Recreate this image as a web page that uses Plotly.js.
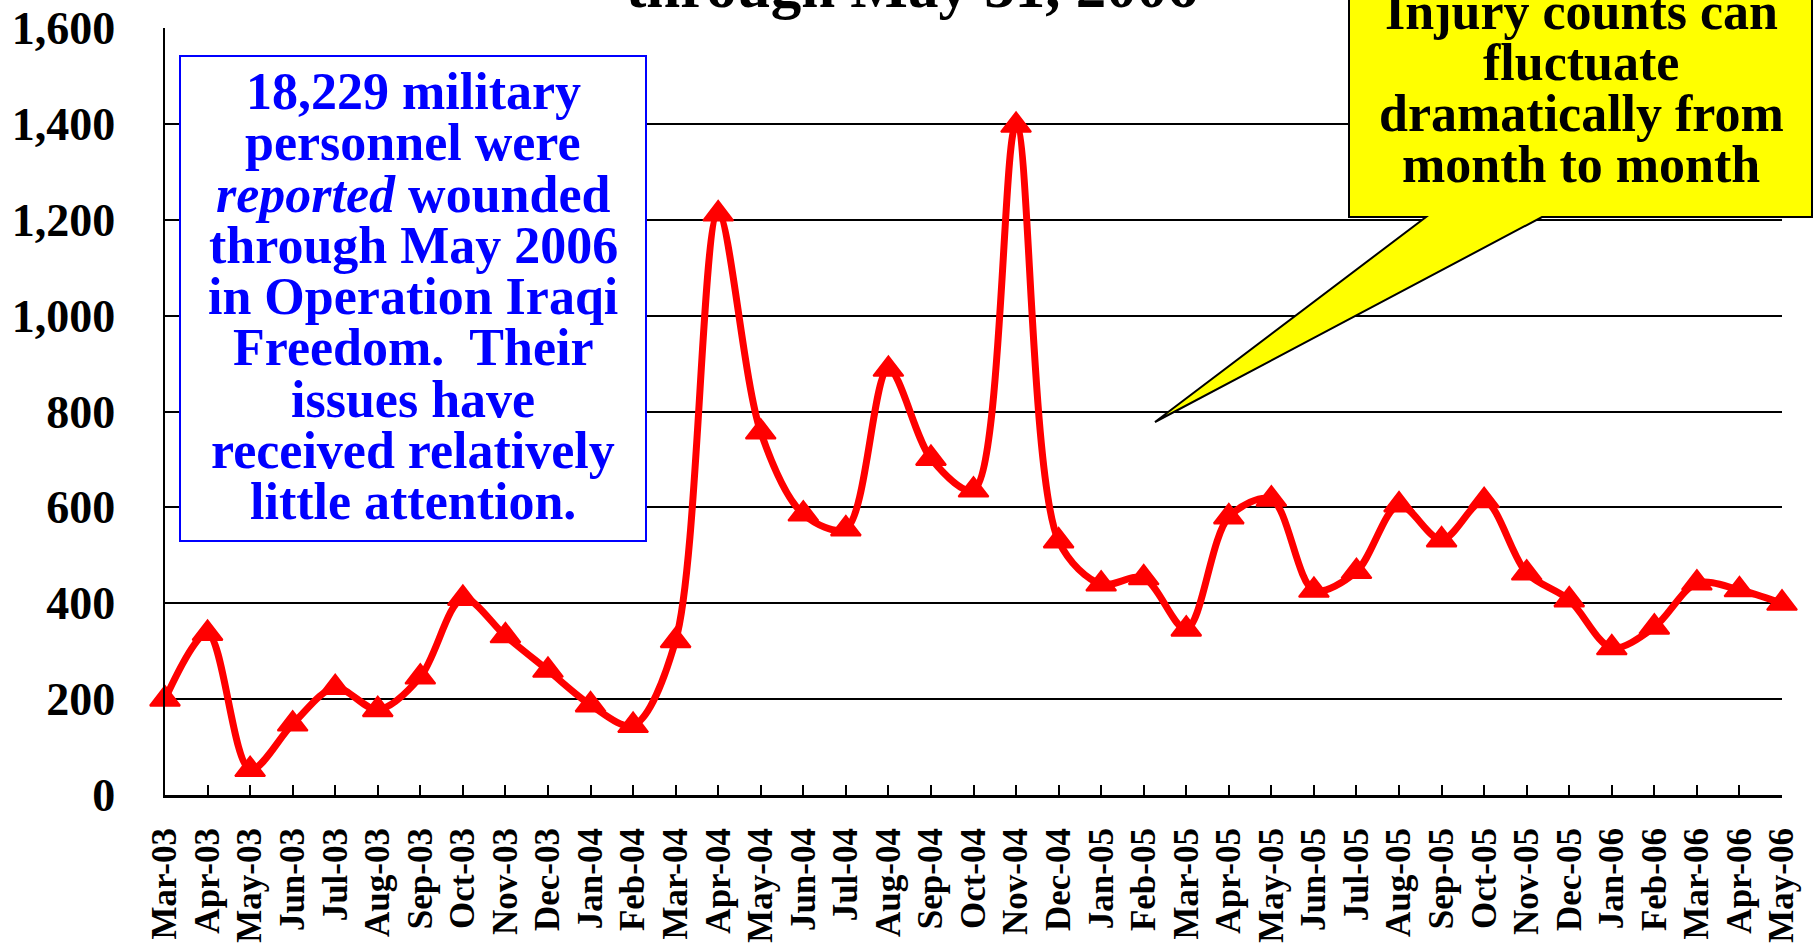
<!DOCTYPE html>
<html><head><meta charset="utf-8">
<script src="https://cdn.plot.ly/plotly-3.0.1.min.js"></script>
<style>html,body{margin:0;padding:0;background:#fff;}#chart{width:1814px;height:944px;}</style>
</head><body><div id="chart"></div>
<script>
const months = ['Mar-03','Apr-03','May-03','Jun-03','Jul-03','Aug-03','Sep-03','Oct-03','Nov-03','Dec-03',
  'Jan-04','Feb-04','Mar-04','Apr-04','May-04','Jun-04','Jul-04','Aug-04','Sep-04','Oct-04','Nov-04','Dec-04',
  'Jan-05','Feb-05','Mar-05','Apr-05','May-05','Jun-05','Jul-05','Aug-05','Sep-05','Oct-05','Nov-05','Dec-05',
  'Jan-06','Feb-06','Mar-06','Apr-06','May-06'];
const wounded = [200, 337, 53, 148, 224, 178, 246, 410, 332, 260,
  188, 145, 322, 1212, 757, 586, 555, 888, 702, 636, 1397, 530,
  440, 453, 346, 580, 617, 427, 466, 605, 532, 614, 463, 407,
  307, 350, 442, 428, 400];
const yTicks = [0, 200, 400, 600, 800, 1000, 1200, 1400, 1600];
const titleText = 'through May 31, 2006';
const boxLines = ['18,229 military', 'personnel were', '<i>reported</i> wounded', 'through May 2006',
  'in Operation Iraqi', 'Freedom.\u00a0 Their', 'issues have', 'received relatively', 'little attention.'];
const calloutLines = ['Injury counts can', 'fluctuate', 'dramatically from', 'month to month'];

const W = 1814, H = 944, L = 165, R = 32, T = 28, B = 149;
const pw = W - L - R, ph = H - T - B;
const px = x => (x - L) / pw;
const py = y => (H - B - y) / ph;
const FONT = 'Liberation Serif, Times New Roman, serif';

const annotations = [];
annotations.push({text: titleText, xref: 'paper', yref: 'paper', x: px(912), y: py(-13),
  xanchor: 'center', yanchor: 'middle', showarrow: false,
  font: {family: FONT, size: 61, color: '#000', weight: 'bold'}});
boxLines.forEach((t, i) => annotations.push({text: t, xref: 'paper', yref: 'paper',
  x: px(413), y: py(109 + 51.25 * i - 17.5), xanchor: 'center', yanchor: 'middle', showarrow: false,
  font: {family: FONT, size: 52, color: '#0000FF', weight: 'bold'}}));
calloutLines.forEach((t, i) => annotations.push({text: t, xref: 'paper', yref: 'paper',
  x: px(1581), y: py(29 + 51 * i - 17.5), xanchor: 'center', yanchor: 'middle', showarrow: false,
  font: {family: FONT, size: 52, color: '#000', weight: 'bold'}}));

const calloutPath = 'M ' + px(1349) + ',' + py(-5) + ' L ' + px(1812) + ',' + py(-5) +
  ' L ' + px(1812) + ',' + py(217) + ' L ' + px(1542) + ',' + py(217) +
  ' L ' + px(1155) + ',' + py(422) + ' L ' + px(1426) + ',' + py(217) +
  ' L ' + px(1349) + ',' + py(217) + ' Z';

const shapes = [
  {type: 'rect', xref: 'paper', yref: 'paper', x0: px(180), x1: px(646), y0: py(541), y1: py(56),
   line: {color: '#0000FF', width: 2}, fillcolor: '#FFFFFF', layer: 'above'},
  {type: 'path', xref: 'paper', yref: 'paper', path: calloutPath,
   line: {color: '#000', width: 2}, fillcolor: '#FFFF00', layer: 'above'}
];

const trace = {x: months, y: wounded, type: 'scatter', mode: 'lines+markers',
  line: {color: '#FF0000', width: 7, shape: 'spline', smoothing: 0.9},
  marker: {symbol: 'triangle-up', size: 26, color: '#FF0000', line: {color: '#FF0000', width: 2}},
  cliponaxis: false, hoverinfo: 'skip', showlegend: false};

const layout = {
  width: W, height: H, margin: {l: L, r: R, t: T, b: B},
  paper_bgcolor: '#fff', plot_bgcolor: '#fff', showlegend: false,
  xaxis: {type: 'category', range: [0, months.length - 1], showgrid: false,
    tickmode: 'linear', tick0: 0, dtick: 1,
    showline: true, linecolor: '#000', linewidth: 3,
    ticks: 'inside', ticklen: 10, tickwidth: 2, tickcolor: '#000', tickangle: -90,
    ticklabelstandoff: 16,
    tickfont: {family: FONT, size: 35, color: '#000', weight: 'bold'}},
  yaxis: {range: [0, 1600], tickvals: yTicks, tickformat: ',d', showgrid: true,
    gridcolor: '#000', gridwidth: 2, zeroline: false,
    showline: true, linecolor: '#000', linewidth: 2.5, ticks: '',
    ticklabelstandoff: 38,
    tickfont: {family: FONT, size: 46, color: '#000', weight: 'bold'}},
  shapes: shapes, annotations: annotations
};
Plotly.newPlot('chart', [trace], layout, {displayModeBar: false, staticPlot: true});
</script></body></html>
